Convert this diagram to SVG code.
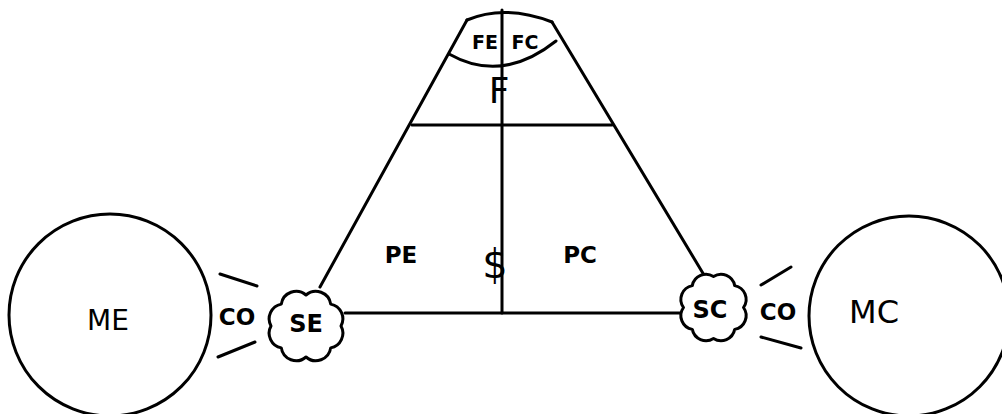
<svg xmlns="http://www.w3.org/2000/svg" width="1002" height="414" viewBox="0 0 1002 414">
<style>
.ln{fill:none;stroke:#000;stroke-width:3;stroke-linecap:round;stroke-linejoin:round}
.bg{fill:#fff;stroke:#000;stroke-width:3;stroke-linejoin:round}
.t{font-family:"DejaVu Sans","Liberation Sans",sans-serif;fill:#000;text-anchor:middle;dominant-baseline:central}
</style>
<rect width="1002" height="414" fill="#fff"/>
<g id="connectors">
<path class="ln" d="M320,287 L467,20"/>
<path class="ln" d="M704,275 L552,22"/>
<path class="ln" d="M467,20 Q505,4 552,22"/>
<path class="ln" d="M449,54 Q502,84 556,41"/>
<path class="ln" d="M502,10 L502,313"/>
<path class="ln" d="M412,125 L612,125"/>
<path class="ln" d="M345,313 L680,313"/>
<path class="ln" d="M220,274 L257,286"/>
<path class="ln" d="M218,357 L255,342"/>
<path class="ln" d="M761,285 L791,267"/>
<path class="ln" d="M761,337 L801,348"/>
</g>
<g id="node-ME">
<circle class="ln" cx="110" cy="315" r="101"/>
<text class="t" x="108" y="320" font-size="28">ME</text>
</g>
<g id="node-MC">
<circle class="ln" cx="909" cy="316" r="100"/>
<text class="t" x="874" y="312" font-size="32">MC</text>
</g>
<g id="node-SE">
<path class="bg" d="M341,326 A15,15 0 0 1 330.7,347.9 A15,15 0 0 1 306,357 A15,15 0 0 1 281.3,347.9 A15,15 0 0 1 271,326 A15,15 0 0 1 281.3,304.1 A15,15 0 0 1 306,295 A15,15 0 0 1 330.7,304.1 A15,15 0 0 1 341,326 Z"/>
<text class="t" x="306" y="324" font-size="24" font-weight="bold">SE</text>
</g>
<g id="node-SC">
<path class="bg" d="M743.5,307.5 A14,14 0 0 1 734.7,329.4 A14,14 0 0 1 713.5,338.5 A14,14 0 0 1 692.3,329.4 A14,14 0 0 1 683.5,307.5 A14,14 0 0 1 692.3,285.6 A14,14 0 0 1 713.5,276.5 A14,14 0 0 1 734.7,285.6 A14,14 0 0 1 743.5,307.5 Z"/>
<text class="t" x="710" y="310" font-size="24" font-weight="bold">SC</text>
</g>
<g id="labels">
<text class="t" x="485" y="42" font-size="19" font-weight="bold">FE</text>
<text class="t" x="525" y="42" font-size="19" font-weight="bold">FC</text>
<text class="t" x="499" y="90" font-size="36">F</text>
<text class="t" x="401" y="255" font-size="23" font-weight="bold">PE</text>
<text class="t" x="580" y="255" font-size="23" font-weight="bold">PC</text>
<text class="t" x="495" y="264" font-size="40">$</text>
<text class="t" x="237" y="317" font-size="23" font-weight="bold">CO</text>
<text class="t" x="778" y="312" font-size="23" font-weight="bold">CO</text>
</g>
</svg>
